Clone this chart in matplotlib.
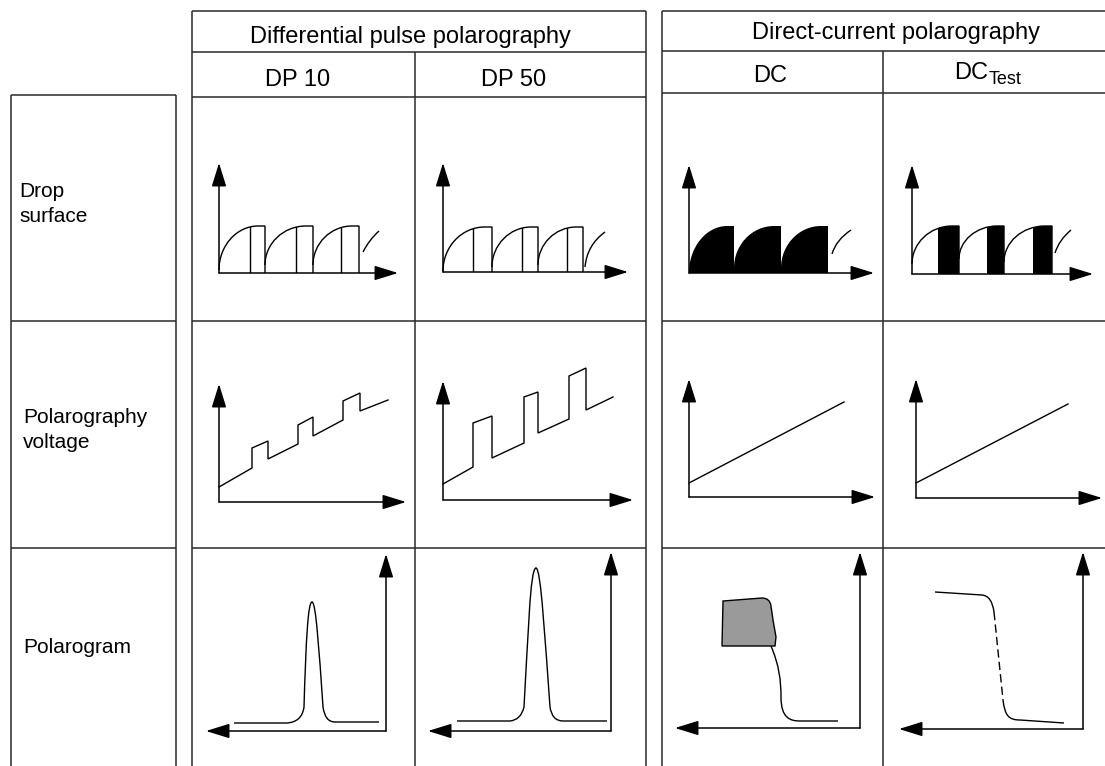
import matplotlib.pyplot as plt
from matplotlib.path import Path
from matplotlib.patches import PathPatch, Rectangle

plt.rcParams['font.family'] = ['Liberation Sans', 'DejaVu Sans']

# texts
group_titles = ['Differential pulse polarography', 'Direct-current polarography']
method_names = ['DP 10', 'DP 50', 'DC', 'DC_Test']
row_lines = [['Drop', 'surface'], ['Polarography', 'voltage'], ['Polarogram']]

# sketch values, in pixels relative to the corner of each little sketch
# (x to the right of the vertical axis, y above the horizontal axis)

# drop surface row: one arc per drop
drop_start = [[0, 46, 94], [0, 49, 95], [0, 45, 92], [0, 47, 92]]
drop_end = [[46, 94, 140], [49, 95, 140], [45, 92, 139], [47, 92, 140]]
drop_foot = [[3, 8, 8], [1, 5, 7], [0, 5, 5], [10, 15, 12]]
drop_top = [47, 45, 47, 48]
pulse_at = [[31, 77, 122], [30, 79, 124], [], []]
black_from = [None, None, [0, 45, 92], [26, 75, 121]]
drop_tail = [[(144, 21), (150, 33), (160, 42)],
             [(142, 5), (144, 27), (162, 40)],
             [(143, 19), (147, 33), (162, 43)],
             [(143, 21), (147, 34), (159, 44)]]

# polarography voltage row
volt_x = [[0, 33, 33, 49, 49, 79, 79, 94, 94, 124, 124, 141, 141, 169],
          [0, 30, 30, 49, 49, 81, 81, 95, 95, 126, 126, 143, 143, 170],
          [0, 155],
          [0, 152]]
volt_y = [[15, 34, 54, 61, 43, 58, 77, 85, 66, 82, 101, 109, 91, 102],
          [16, 33, 77, 84, 42, 57, 103, 108, 67, 81, 124, 132, 90, 103],
          [14, 95],
          [15, 94]]

# polarogram row (x is negative: the current axis is on the right)
peak_codes = [Path.MOVETO, Path.LINETO, Path.CURVE3, Path.CURVE3,
              Path.CURVE4, Path.CURVE4, Path.CURVE4,
              Path.CURVE4, Path.CURVE4, Path.CURVE4,
              Path.CURVE3, Path.CURVE3, Path.LINETO]
dp10_peak = [(-152, 8), (-99, 8), (-84, 9), (-82, 24), (-80, 91), (-78, 129), (-74, 129),
             (-70, 129), (-67, 81), (-63, 24), (-61, 9), (-51, 9), (-7, 9)]
dp50_peak = [(-154, 10), (-101, 10), (-90, 11), (-87, 24), (-83, 91), (-81, 163), (-75, 163),
             (-70, 163), (-66, 91), (-61, 24), (-59, 10), (-48, 10), (-4, 10)]
dc_blob = [(-138, 82), (-137, 127), (-98, 130), (-90, 130), (-89, 122),
           (-87, 108), (-84, 91), (-85, 82), (-138, 82)]
dc_wave = [(-89, 82), (-81, 63), (-79, 48), (-79, 31), (-79, 10), (-70, 7), (-60, 7), (-22, 7)]
test_top = [(-148, 137), (-101, 134), (-91, 133), (-89, 117)]
test_mid = [(-89, 117), (-80, 29)]
test_low = [(-80, 29), (-78, 14), (-75, 9), (-63, 9), (-19, 6)]

# layout: corner of each sketch and length of its axes
drop_org = [(219, 273), (443, 272), (689, 273), (912, 274)]
volt_org = [(219, 502), (443, 500), (689, 497), (916, 498)]
pol_org = [(386, 731), (611, 731), (860, 728), (1083, 729)]
drop_axis = [(179, 110), (185, 109), (185, 108), (181, 109)]
volt_axis = [(187, 118), (190, 119), (186, 118), (186, 119)]
pol_axis = [(-180, 177), (-183, 179), (-185, 176), (-184, 177)]

W, H = 1105, 766
fig = plt.figure(figsize=(W / 100, H / 100), dpi=100)
ax = fig.add_axes([0, 0, 1, 1])
ax.set_xlim(0, W)
ax.set_ylim(H, 0)
ax.axis('off')

grid_c = '#2a2a2a'
grid_lw = 1.1
line_lw = 1.0


def px(org, pts):
    return [(org[0] + x, org[1] - y) for x, y in pts]


def axes_arrows(org, xlen, ylen):
    kw = dict(arrowstyle='-|>,head_length=1.45,head_width=0.45', color='black',
              lw=1.1, shrinkA=0, shrinkB=0)
    ax.annotate('', xy=(org[0] + xlen, org[1]), xytext=org, arrowprops=kw)
    ax.annotate('', xy=(org[0], org[1] - ylen), xytext=org, arrowprops=kw)


# table frame
for x0, x1, ys in [(192, 646, [11, 52, 97, 321, 548]), (662, W, [11, 51, 93, 321, 548]),
                   (11, 176, [95, 321, 548])]:
    for y in ys:
        ax.plot([x0, x1], [y, y], color=grid_c, lw=grid_lw, solid_capstyle='butt')
for x, y0 in [(192, 11), (646, 11), (415, 52), (662, 11), (883, 51), (11, 95), (176, 95)]:
    ax.plot([x, x], [y0, H], color=grid_c, lw=grid_lw, solid_capstyle='butt')

# header texts
ax.text(410, 43, group_titles[0], fontsize=17, ha='center', va='baseline')
ax.text(896, 39, group_titles[1], fontsize=17, ha='center', va='baseline')
for name, (x, y) in zip(method_names, [(298, 86), (514, 86), (770, 82), (954, 79)]):
    if '_' in name:
        main, sub = name.split('_')
        ax.text(x, y, main, fontsize=17, ha='left', va='baseline')
        ax.text(x + 35, y + 5, sub, fontsize=13, ha='left', va='baseline')
    else:
        ax.text(x, y, name, fontsize=17, ha='center', va='baseline')

for lines, (x, y) in zip(row_lines, [(19, 197), (23, 423), (23, 653)]):
    for k, s in enumerate(lines):
        ax.text(x, y + 25 * k, s, fontsize=15, ha='left', va='baseline')

# drop surface sketches
for i, org in enumerate(drop_org):
    axes_arrows(org, *drop_axis[i])
    top = drop_top[i]
    for j, (s, e) in enumerate(zip(drop_start[i], drop_end[i])):
        f = drop_foot[i][j]
        w = 0.85 * (e - s)
        arc = [(s, f), (s, f + 0.55 * (top - f)), (s + 0.45 * w, top), (s + w, top), (e, top)]
        arc_codes = [Path.MOVETO, Path.CURVE4, Path.CURVE4, Path.CURVE4, Path.LINETO]
        region = Path(px(org, arc + [(e, 0), (s, 0), (s, 0)]),
                      arc_codes + [Path.LINETO, Path.LINETO, Path.CLOSEPOLY])
        clip = PathPatch(region, facecolor='none', edgecolor='none')
        ax.add_patch(clip)
        if black_from[i] is not None:
            b = black_from[i][j]
            x0, y0 = px(org, [(b, top + 5)])[0]
            r = Rectangle((x0, y0), e - b, top + 5, facecolor='black', edgecolor='none')
            ax.add_patch(r)
            r.set_clip_path(clip)
        if i != 2:
            outline = Path(px(org, arc + [(e, 0)]), arc_codes + [Path.LINETO])
            ax.add_patch(PathPatch(outline, facecolor='none', edgecolor='black', lw=line_lw))
        for m in pulse_at[i][j:j + 1]:
            ln, = ax.plot(*zip(*px(org, [(m, 0), (m, top + 5)])), color='black', lw=line_lw)
            ln.set_clip_path(clip)
    tail = Path(px(org, drop_tail[i]), [Path.MOVETO, Path.CURVE3, Path.CURVE3])
    ax.add_patch(PathPatch(tail, facecolor='none', edgecolor='black', lw=line_lw))

# voltage sketches
for i, org in enumerate(volt_org):
    axes_arrows(org, *volt_axis[i])
    xs, ys = zip(*px(org, zip(volt_x[i], volt_y[i])))
    ax.plot(xs, ys, color='black', lw=line_lw, solid_joinstyle='miter')

# polarograms
for i, org in enumerate(pol_org):
    axes_arrows(org, *pol_axis[i])

for i, peak in [(0, dp10_peak), (1, dp50_peak)]:
    ax.add_patch(PathPatch(Path(px(pol_org[i], peak), peak_codes),
                           facecolor='none', edgecolor='black', lw=line_lw))

blob_codes = [Path.MOVETO, Path.LINETO, Path.LINETO, Path.CURVE3, Path.CURVE3,
              Path.LINETO, Path.LINETO, Path.LINETO, Path.CLOSEPOLY]
ax.add_patch(PathPatch(Path(px(pol_org[2], dc_blob), blob_codes),
                       facecolor='#9a9a9a', edgecolor='black', lw=line_lw))
wave_codes = [Path.MOVETO] + [Path.CURVE4] * 6 + [Path.LINETO]
ax.add_patch(PathPatch(Path(px(pol_org[2], dc_wave), wave_codes),
                       facecolor='none', edgecolor='black', lw=line_lw))

ax.add_patch(PathPatch(Path(px(pol_org[3], test_top),
                            [Path.MOVETO, Path.LINETO, Path.CURVE3, Path.CURVE3]),
                       facecolor='none', edgecolor='black', lw=line_lw))
xs, ys = zip(*px(pol_org[3], test_mid))
ax.plot(xs, ys, color='black', lw=line_lw, linestyle=(0, (6, 3)))
ax.add_patch(PathPatch(Path(px(pol_org[3], test_low),
                            [Path.MOVETO, Path.CURVE4, Path.CURVE4, Path.CURVE4, Path.LINETO]),
                       facecolor='none', edgecolor='black', lw=line_lw))

fig.savefig('out.png', dpi=100, facecolor='white')
